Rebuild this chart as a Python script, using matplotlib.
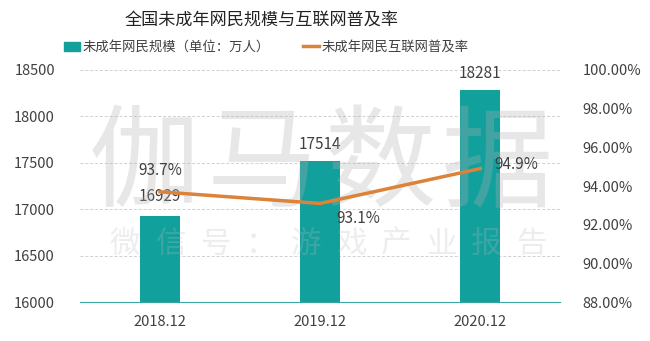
import matplotlib
matplotlib.use("Agg")
import matplotlib.pyplot as plt
import numpy as np
from matplotlib.lines import Line2D
from matplotlib.patches import Patch

plt.rcParams['font.family'] = ['Noto Sans CJK SC', 'DejaVu Sans']

# data
categories = ['2018.12', '2019.12', '2020.12']
users = [16929, 17514, 18281]          # 万人
rate = [93.7, 93.1, 94.9]              # %

teal = '#12A09C'
orange = '#DC8239'
txt = '#404040'

fig = plt.figure(figsize=(6.5, 3.41), dpi=100)
ax = fig.add_axes([0.123, 0.114, 0.739, 0.681])
ax2 = ax.twinx()

x = np.arange(len(categories))
ax.bar(x, users, width=0.25, color=teal, zorder=3)
ax.set_ylim(16000, 18500)
ax.set_xlim(-0.5, 2.5)
ax.set_yticks(np.arange(16000, 18501, 500))
ax.set_xticks(x)
ax.set_xticklabels(categories)
ax.grid(axis='y', color='#d0d0d0', linestyle=(0, (3, 2)), linewidth=0.7, zorder=0)
ax.set_axisbelow(True)

ax2.plot(x, rate, color=orange, linewidth=2.5, zorder=4)
ax2.set_ylim(88, 100)
ax2.set_yticks(np.arange(88, 100.1, 2))
ax2.set_yticklabels(['%.2f%%' % v for v in np.arange(88, 100.1, 2)])

for a in (ax, ax2):
    for s in a.spines.values():
        s.set_visible(False)
    a.tick_params(length=0, labelsize=10.5, labelcolor=txt)
ax.spines['bottom'].set_visible(True)
ax.spines['bottom'].set_color('#3aa6a2')
ax.tick_params(axis='y', pad=18)
ax.tick_params(axis='x', pad=9)
ax2.tick_params(axis='y', pad=16)

# watermark (semi-transparent, drawn over the bars)
for i, ch in enumerate('伽马数据'):
    ax2.text(0.135 + i * 0.245, 0.585, ch, transform=ax.transAxes, fontsize=80,
             color='#b0b0b0', alpha=0.3, ha='center', va='center', zorder=2)
for i, ch in enumerate('微信号：游戏产业报告'):
    ax2.text(0.094 + i * 0.094, 0.25, ch, transform=ax.transAxes, fontsize=22,
             color='#b8b8b8', alpha=0.25, ha='center', va='center', zorder=2)

# bar labels
ax.annotate(str(users[0]), (x[0], users[0]), xytext=(0, 8), textcoords='offset points',
            ha='center', va='bottom', fontsize=11, color=txt, zorder=5)
for i in (1, 2):
    ax.annotate(str(users[i]), (x[i], users[i]), xytext=(0, 6), textcoords='offset points',
                ha='center', va='bottom', fontsize=11, color=txt, zorder=5)

# line labels
ax2.annotate('%.1f%%' % rate[0], (x[0], rate[0]), xytext=(0, 9), textcoords='offset points',
             ha='center', va='bottom', fontsize=11, color=txt, zorder=5)
ax2.annotate('%.1f%%' % rate[1], (x[1], rate[1]), xytext=(12, -5), textcoords='offset points',
             ha='left', va='top', fontsize=11, color=txt, zorder=5)
ax2.annotate('%.1f%%' % rate[2], (x[2], rate[2]), xytext=(10, 3), textcoords='offset points',
             ha='left', va='center', fontsize=11, color=txt, zorder=5)

fig.text(0.403, 0.94, '全国未成年网民规模与互联网普及率', ha='center', va='center',
         fontsize=12.3, color='#222222')

handles = [Patch(color=teal), Line2D([0], [0], color=orange, linewidth=2.5)]
fig.legend(handles, ['未成年网民规模（单位：万人）', '未成年网民互联网普及率'],
           loc='center', bbox_to_anchor=(0.41, 0.862), ncol=2, frameon=False,
           fontsize=9.6, handlelength=1.2, handletextpad=0.2, columnspacing=2.5,
           labelcolor=txt)

fig.savefig('out.png', dpi=100)
